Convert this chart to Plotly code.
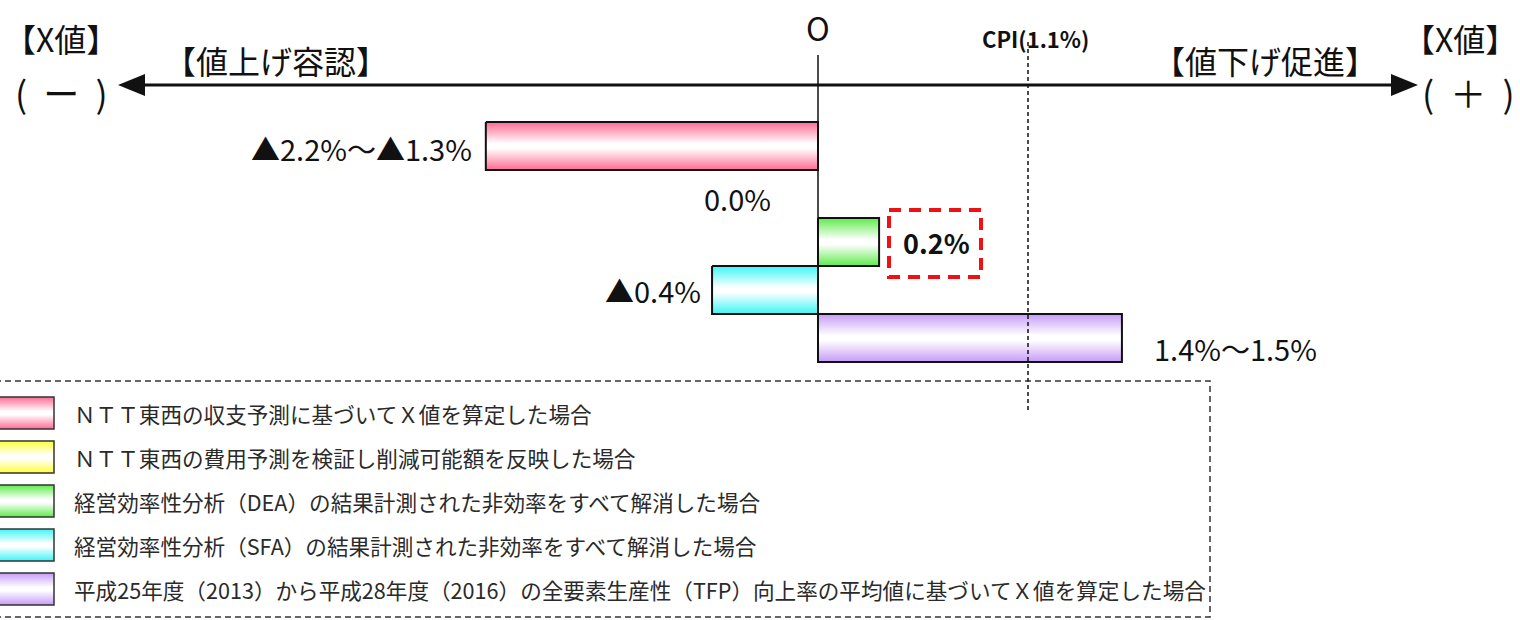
import plotly.graph_objects as go

# ---------------- data ----------------
scenarios = [
    "ＮＴＴ東西の収支予測に基づいてＸ値を算定した場合",
    "ＮＴＴ東西の費用予測を検証し削減可能額を反映した場合",
    "経営効率性分析（DEA）の結果計測された非効率をすべて解消した場合",
    "経営効率性分析（SFA）の結果計測された非効率をすべて解消した場合",
    "平成25年度（2013）から平成28年度（2016）の全要素生産性（TFP）向上率の平均値に基づいてＸ値を算定した場合",
]
value_labels = ["▲2.2%～▲1.3%", "0.0%", "0.2%", "▲0.4%", "1.4%～1.5%"]
# drawn (schematic) extents of each bar on the X-value axis
bar_start = [-1.74, 0.0, 0.0, -0.555, 0.0]
bar_end = [0.0, 0.0, 0.32, 0.0, 1.592]
bar_colors = ["#FF6A93", "#FFFF3C", "#5EEB4A", "#3CF5F5", "#C69BF7"]
cpi_value = 1.1
cpi_label = "CPI(1.1%)"

FONT = "Noto Sans CJK JP"
PX_PER_UNIT = 210 / 1.1
ZERO_PX = 818
ROW0_PX, ROW_PX = 146, 48
W, H = 1520, 620

fig = go.Figure()


def grad(color):
    return dict(type="vertical", colorscale=[[0, color], [0.45, "#ffffff"], [0.55, "#ffffff"], [1, color]])


# bars
for i, (s, e, c) in enumerate(zip(bar_start, bar_end, bar_colors)):
    if e - s <= 0:
        continue
    g = grad(c)
    g["start"] = i - 0.5
    g["stop"] = i + 0.5
    fig.add_trace(go.Scatter(
        x=[s, e, e, s, s], y=[i - 0.5, i - 0.5, i + 0.5, i + 0.5, i - 0.5],
        mode="lines", fill="toself", fillgradient=g,
        line=dict(color="#111111", width=2), hoverinfo="skip", showlegend=False,
        xaxis="x", yaxis="y"))

# zero line and CPI line
fig.add_trace(go.Scatter(x=[0, 0], y=[(55 - ROW0_PX) / ROW_PX, len(bar_start) - 0.5],
                         mode="lines", line=dict(color="#111111", width=1.5),
                         hoverinfo="skip", showlegend=False))
fig.add_trace(go.Scatter(x=[cpi_value, cpi_value], y=[(42 - ROW0_PX) / ROW_PX, (412 - ROW0_PX) / ROW_PX],
                         mode="lines", line=dict(color="#111111", width=1.5, dash="4px,3px"),
                         hoverinfo="skip", showlegend=False))

# legend swatches (pixel-like secondary axes)
leg_rows = [413, 457, 501, 545, 589]
for yc, c in zip(leg_rows, bar_colors):
    g = grad(c)
    g["start"] = yc - 16
    g["stop"] = yc + 16
    fig.add_trace(go.Scatter(
        x=[-5, 54, 54, -5, -5], y=[yc - 16, yc - 16, yc + 16, yc + 16, yc - 16],
        mode="lines", fill="toself", fillgradient=g,
        line=dict(color="#333333", width=1.5), hoverinfo="skip", showlegend=False,
        xaxis="x2", yaxis="y2"))

annotations = []
shapes = []

# legend texts
for yc, t in zip(leg_rows, scenarios):
    annotations.append(dict(x=72, y=yc, xref="x2", yref="y2", text=t, showarrow=False,
                            xanchor="left", yanchor="middle",
                            font=dict(family=FONT, size=21.6, color="#2a2a2a")))
# legend dashed box
shapes.append(dict(type="rect", xref="x2", yref="y2", x0=-5, x1=1210, y0=381, y1=617,
                   line=dict(color="#333333", width=1.5, dash="6px,4px")))

# value labels
lab_pos = [
    (bar_start[0] - 0.06, 0.05, "right", False),
    (-0.42, 1.08, "center", False),
    (bar_end[2] + 0.3, 2.0, "center", True),
    (bar_start[3] - 0.05, 3.0, "right", False),
    (1.75, 4.2, "left", False),
]
for (x, y, anc, bold), t in zip(lab_pos, value_labels):
    annotations.append(dict(x=x, y=y, xref="x", yref="y",
                            text=f"<b>{t}</b>" if bold else t, showarrow=False,
                            xanchor=anc, yanchor="middle",
                            font=dict(family=FONT, size=29 if not bold else 27, color="#111111")))
# red dashed box around highlighted value
shapes.append(dict(type="rect", xref="x2", yref="y2", x0=889, x1=981, y0=210, y1=277,
                   line=dict(color="#EE1111", width=4, dash="12px,8px")))

# header texts: (x, y, text, size, bold, anchor)
hdr = [
    (818, 27, "O", 32, False, "center"),
    (1035, 38, cpi_label, 22, True, "center"),
    (3, 38, "【X値】", 32, False, "left"),
    (61, 92, "(&nbsp;&nbsp;ー&nbsp;&nbsp;)", 36, False, "center"),
    (276, 60, "【値上げ容認】", 32, False, "center"),
    (1265, 60, "【値下げ促進】", 32, False, "center"),
    (1518, 38, "【X値】", 32, False, "right"),
    (1468, 92, "(&nbsp;&nbsp;＋&nbsp;&nbsp;)", 36, False, "center"),
]
for x, y, t, s, bold, anc in hdr:
    annotations.append(dict(x=x, y=y, xref="x2", yref="y2", text=f"<b>{t}</b>" if bold else t,
                            showarrow=False, xanchor=anc, yanchor="middle", borderpad=0,
                            font=dict(family=FONT, size=s, color="#111111")))

# double arrow
shapes.append(dict(type="line", xref="x2", yref="y2", x0=140, x1=1400, y0=85, y1=85,
                   line=dict(color="#111111", width=3)))
shapes.append(dict(type="path", xref="x2", yref="y2", path="M 118 85 L 145 74 L 145 96 Z",
                   fillcolor="#111111", line=dict(width=0)))
shapes.append(dict(type="path", xref="x2", yref="y2", path="M 1418 85 L 1391 74 L 1391 96 Z",
                   fillcolor="#111111", line=dict(width=0)))

ax_common = dict(visible=False, showgrid=False, zeroline=False, fixedrange=True)
fig.update_layout(
    width=W, height=H,
    margin=dict(l=0, r=0, t=0, b=0),
    paper_bgcolor="white", plot_bgcolor="white",
    xaxis=dict(range=[-ZERO_PX / PX_PER_UNIT, (W - ZERO_PX) / PX_PER_UNIT], **ax_common),
    yaxis=dict(range=[(H - ROW0_PX) / ROW_PX, -ROW0_PX / ROW_PX], **ax_common),
    xaxis2=dict(range=[0, W], overlaying="x", **ax_common),
    yaxis2=dict(range=[H, 0], overlaying="y", **ax_common),
    annotations=annotations, shapes=shapes, showlegend=False,
)
fig.write_html("out.html", config={"displayModeBar": False},
               post_script="document.body.style.margin='0';document.body.style.overflow='hidden';")
